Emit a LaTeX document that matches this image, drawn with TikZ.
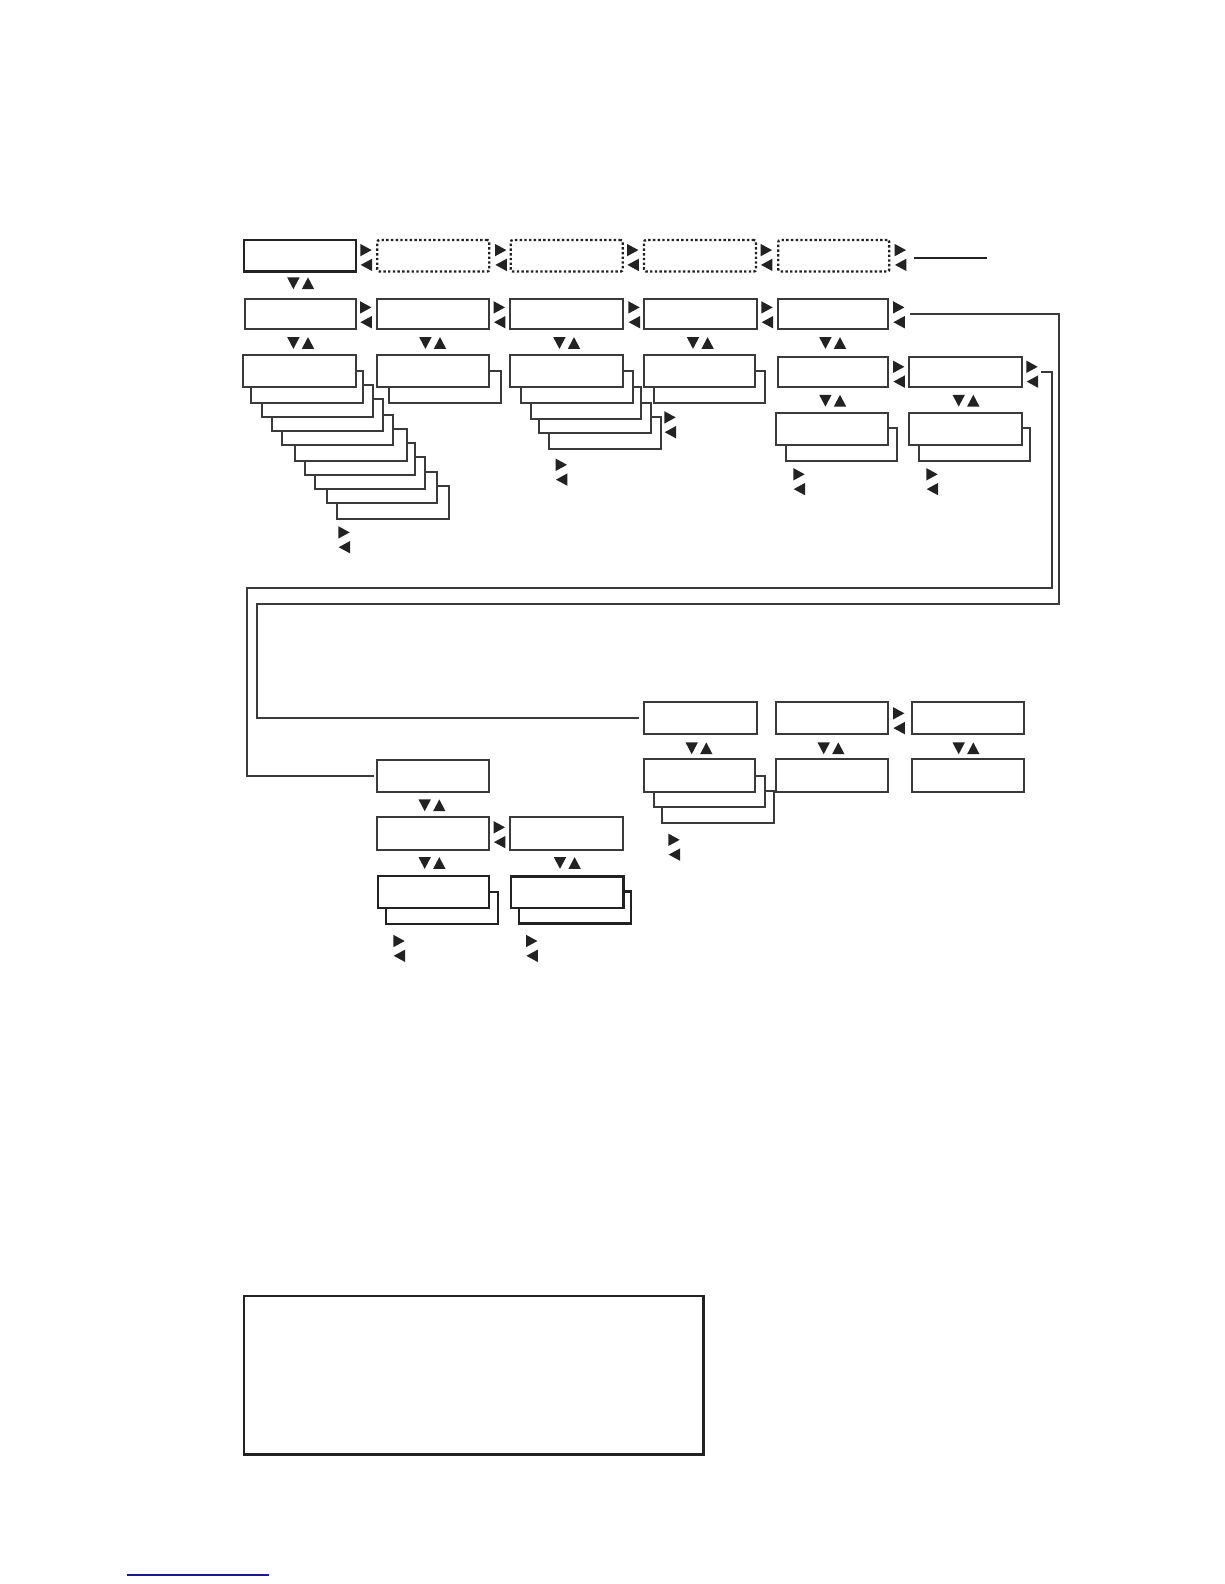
\documentclass[tikz,border=0pt]{standalone}
\definecolor{ink}{HTML}{3A3A3A}
\definecolor{darkink}{HTML}{222222}
\definecolor{linkblue}{HTML}{1A1A8C}
\tikzset{
  menubox/.style={draw=ink,fill=white,line width=1.9pt,inner sep=0pt,outer sep=0pt,rectangle},
  strongbox/.style={menubox,draw=darkink,line width=2.7pt},
  midbox/.style={menubox,draw=darkink,line width=2.2pt},
  dotbox/.style={menubox,draw=darkink,line width=2.3pt,rounded corners=2pt,dash pattern=on 2.4pt off 2.3pt},
  conn/.style={draw=ink,line width=1.9pt,line join=miter},
  tri/.style={fill=darkink,draw=none},
}
\newcommand{\bx}[6][menubox]{%
  \pgfmathsetmacro{\bw}{#5-#3}\pgfmathsetmacro{\bh}{#6-#4}%
  \pgfmathsetmacro{\bcx}{(#3+#5)/2}\pgfmathsetmacro{\bcy}{(#4+#6)/2}%
  \node[#1,minimum width=\bw pt,minimum height=\bh pt] (#2) at (\bcx,\bcy) {};}
\newcommand{\rt}[2]{\fill[tri] ({#1-5.7},{#2-6.2}) -- ({#1+5.7},{#2}) -- ({#1-5.7},{#2+6.2}) -- cycle;}
\newcommand{\lt}[2]{\fill[tri] ({#1+5.7},{#2-6.2}) -- ({#1-5.7},{#2}) -- ({#1+5.7},{#2+6.2}) -- cycle;}
\newcommand{\hp}[2]{\rt{#1}{#2-7.4}\lt{#1+0.4}{#2+7.4}}
\newcommand{\dn}[2]{\fill[tri] ({#1-6.2},{#2-5.9}) -- ({#1+6.2},{#2-5.9}) -- ({#1},{#2+5.9}) -- cycle;}
\newcommand{\up}[2]{\fill[tri] ({#1-6.2},{#2+5.9}) -- ({#1+6.2},{#2+5.9}) -- ({#1},{#2-5.9}) -- cycle;}
\newcommand{\vp}[2]{\dn{#1-7.3}{#2}\up{#1+7.3}{#2}}
\begin{document}
\begin{tikzpicture}[x=1pt,y=-1pt]
\useasboundingbox (0,0) rectangle (1224,1584);
% top row
\bx[strongbox]{t1}{244}{240}{356}{271.5}
\bx[dotbox]{t2}{377.3}{240}{489.3}{271.5}
\bx[dotbox]{t3}{510.7}{240}{622.7}{271.5}
\bx[dotbox]{t4}{644}{240}{756}{271.5}
\bx[dotbox]{t5}{778.3}{240}{889.3}{271.5}
% second row
\bx{r1}{245}{299.3}{356}{329.3}
\bx{r2}{376.7}{299.3}{489.3}{329.3}
\bx{r3}{510}{299.3}{622.7}{329.3}
\bx{r4}{644}{299.3}{756.7}{329.3}
\bx{r5}{777.7}{299.3}{888.3}{329.3}
% stack 1
\bx{sa9}{337.3}{486.3}{449.3}{518.7}
\bx{sa8}{327.3}{472.3}{437.3}{502.7}
\bx{sa7}{315.3}{456.7}{425.3}{488.7}
\bx{sa6}{305.3}{442.7}{415.3}{474.7}
\bx{sa5}{295.3}{429}{407.3}{461}
\bx{sa4}{281.7}{415}{393.3}{445}
\bx{sa3}{271.7}{399}{383.3}{431}
\bx{sa2}{261.7}{385.3}{373.3}{417.3}
\bx{sa1}{251.3}{370.7}{363.3}{403.3}
\bx{s1}{243.3}{355}{356}{387.3}
% stack 2
\bx{sb1}{389}{370.7}{501}{403.3}
\bx{s2}{376.7}{355}{489.3}{387.3}
% stack 3
\bx{sc4}{548.7}{416.7}{660.7}{449}
\bx{sc3}{538.7}{402.7}{650.7}{433}
\bx{sc2}{530.7}{386.7}{640.7}{419}
\bx{sc1}{520.7}{370.7}{632.7}{403.3}
\bx{s3}{510}{355}{622.7}{387.3}
% stack 4
\bx{sd1}{654.3}{370.7}{764.7}{403.3}
\bx{s4}{644}{355}{755}{387.3}
% columns 5 and 6
\bx{q5}{777.7}{357.3}{888.3}{387.3}
\bx{q6}{909.3}{357.3}{1022}{387.3}
\bx{pa}{786}{428.3}{896.7}{461}
\bx{p5}{776}{413}{888.3}{445}
\bx{pb}{919.3}{428.3}{1030}{461}
\bx{p6}{909.3}{413}{1022}{445}
% middle right group
\bx{m1}{644}{702}{756.7}{734}
\bx{m2}{776}{702}{888.3}{734}
\bx{m3}{911.7}{702}{1024}{734}
\bx{nb}{662.3}{791}{774.3}{823.3}
\bx{na}{654.3}{775.7}{764.7}{807.3}
\bx{n1}{644}{759.3}{755}{791.7}
\bx{n2}{776}{759.3}{888.3}{791.7}
\bx{n3}{911.7}{759.3}{1024}{791.7}
% lower left group
\bx{l1}{376.7}{759.6}{489.3}{792}
\bx{l2}{376.7}{817.3}{489.3}{849.7}
\bx{l3}{510}{817.3}{622.7}{849.7}
\bx[midbox]{ka}{386}{891.7}{498.3}{923.7}
\bx[midbox]{k1}{377.7}{876.3}{489.3}{908}
\bx[strongbox]{kb}{519}{891.7}{631}{923.7}
\bx[strongbox]{k2}{511}{876.3}{623.3}{908}
% bottom frame
\bx[strongbox]{frame}{244}{1296}{703.7}{1454.7}
% connectors
\coordinate (a1) at (1059.3,314.3);
\coordinate (a2) at (1059.3,604.3);
\coordinate (a3) at (257.3,604.3);
\coordinate (a4) at (257.3,718);
\draw[conn,shorten <=21.7pt,shorten >=4.7pt] (r5.east) -- (a1) -- (a2) -- (a3) -- (a4) -- (m1.west);
\coordinate (b1) at (1052,372.3);
\coordinate (b2) at (1052,588.3);
\coordinate (b3) at (247.3,588.3);
\coordinate (b4) at (247.3,775.8);
\draw[conn,shorten <=18.7pt,shorten >=2.7pt] (q6.east) -- (b1) -- (b2) -- (b3) -- (b4) -- (l1.west);
\coordinate (e1) at (914,258.3);
\coordinate (e2) at (986.7,258.3);
\draw[conn,draw=darkink] (e1) -- (e2);
\coordinate (u1) at (126.7,1575);
\coordinate (u2) at (269,1575);
\draw[draw=linkblue,line width=1.4pt] (u1) -- (u2);
% horizontal arrow pairs
\hp{366}{257.5}\hp{500.7}{257.5}\hp{632.7}{257.5}\hp{766.3}{257.5}\hp{900.3}{257.5}
\hp{365.7}{314.8}\hp{499.3}{314.8}\hp{634}{314.8}\hp{767}{314.8}\hp{898.7}{314.8}
\hp{898.7}{374.2}\hp{1032}{374.2}
\hp{344}{539.8}\hp{561.3}{472.2}\hp{670}{424.8}
\hp{799}{481.7}\hp{932}{481.7}
\hp{499.3}{834.7}\hp{399}{948.4}\hp{531.7}{948.4}
\hp{898.7}{720.7}\hp{674}{847.2}
% vertical arrow pairs
\vp{300.7}{283.3}
\vp{300.7}{343}\vp{432.7}{343}\vp{566.7}{343}\vp{700.3}{343}\vp{832.7}{343}
\vp{832.7}{400.7}\vp{966}{400.7}
\vp{432}{805.3}\vp{432}{863}\vp{567.3}{863}
\vp{699}{748.3}\vp{831}{748.3}\vp{966}{748.3}
\end{tikzpicture}
\end{document}
